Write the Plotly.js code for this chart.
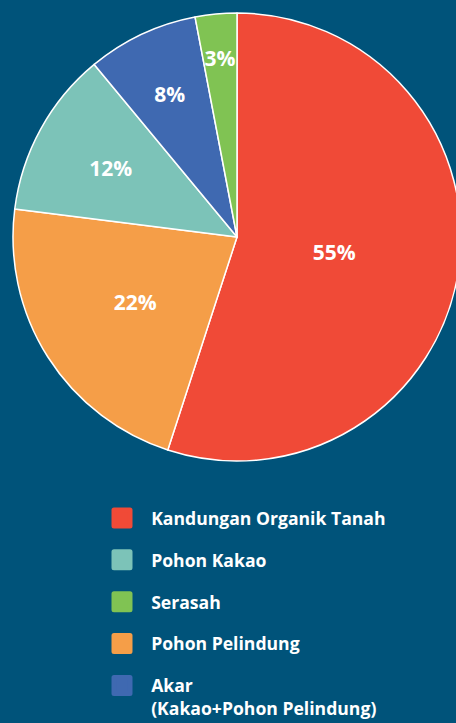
<!DOCTYPE html>
<html><head><meta charset="utf-8">
<script src="https://cdn.plot.ly/plotly-3.0.1.min.js"></script>
<style>
html,body{margin:0;padding:0;overflow:hidden;background:#00537a;}
#chart{width:470px;height:723px;}
.legend .legendpoints path{stroke-linejoin:round;}
</style></head>
<body><div id="chart"></div>
<script>
// Pie slices in clockwise order from 12 o'clock
const sliceLabels = ['Kandungan Organik Tanah', 'Pohon Pelindung', 'Pohon Kakao', 'Akar (Kakao+Pohon Pelindung)', 'Serasah'];
const sliceValues = [55, 22, 12, 8, 3];
const sliceColors = ['#f04a37', '#f59e48', '#7cc3b8', '#3f69b1', '#80c353'];
// Legend order as in the reference
const legendLabels = ['Kandungan Organik Tanah', 'Pohon Kakao', 'Serasah', 'Pohon Pelindung', 'Akar<br>(Kakao+Pohon Pelindung)'];
const legendColors = ['#f04a37', '#7cc3b8', '#80c353', '#f59e48', '#3f69b1'];

const FONT = '"Open Sans", Lato, sans-serif';
const W = 470, H = 723;
const CX = 237, CY = 237, R = 224;   // pie centre / radius in px
const LABEL_R = 0.88 * R;            // radius of the label layer

function dom(r) {
  return {x: [(CX - r) / W, (CX + r) / W], y: [1 - (CY + r) / H, 1 - (CY - r) / H]};
}

// main pie: wedges only
const pie = {
  type: 'pie',
  labels: sliceLabels,
  values: sliceValues,
  sort: false,
  direction: 'clockwise',
  rotation: 0,
  marker: {colors: sliceColors, line: {color: '#ffffff', width: 1.5}},
  textinfo: 'none',
  showlegend: false,
  hoverinfo: 'none',
  domain: dom(R)
};

// label layer: same data, transparent wedges, percentage text
const pieText = {
  type: 'pie',
  labels: sliceLabels,
  values: sliceValues,
  sort: false,
  direction: 'clockwise',
  rotation: 0,
  marker: {colors: sliceColors.map(() => 'rgba(0,0,0,0)'), line: {width: 0}},
  texttemplate: '%{value}%',
  textposition: 'inside',
  insidetextorientation: 'horizontal',
  textfont: {family: FONT, size: 21, color: '#ffffff', weight: 'bold'},
  showlegend: false,
  hoverinfo: 'none',
  domain: dom(LABEL_R)
};

const legendTraces = legendLabels.map((name, i) => ({
  type: 'scatter',
  mode: 'markers',
  x: [null], y: [null],
  name: '\u00a0\u00a0' + name.replace('<br>', '<br>\u00a0\u00a0'),
  legendgroup: 'g' + i,
  marker: {symbol: 'square', size: 16, color: legendColors[i], line: {color: legendColors[i], width: 5}},
  hoverinfo: 'none'
}));

const layout = {
  width: W, height: H,
  margin: {l: 0, r: 0, t: 0, b: 0, autoexpand: false},
  paper_bgcolor: '#00537a',
  plot_bgcolor: 'rgba(0,0,0,0)',
  xaxis: {visible: false},
  yaxis: {visible: false},
  uniformtext: {mode: 'show', minsize: 21},
  showlegend: true,
  legend: {
    x: 102 / W, xanchor: 'left',
    y: 1 - 500 / H, yanchor: 'top',
    bgcolor: 'rgba(0,0,0,0)',
    font: {family: FONT, size: 17.6, color: '#ffffff', weight: 'bold'},
    tracegroupgap: 16,
    valign: 'top',
    itemclick: false, itemdoubleclick: false
  }
};

Plotly.newPlot('chart', [pie, pieText, ...legendTraces], layout, {staticPlot: true, displayModeBar: false});
</script>
</body></html>
